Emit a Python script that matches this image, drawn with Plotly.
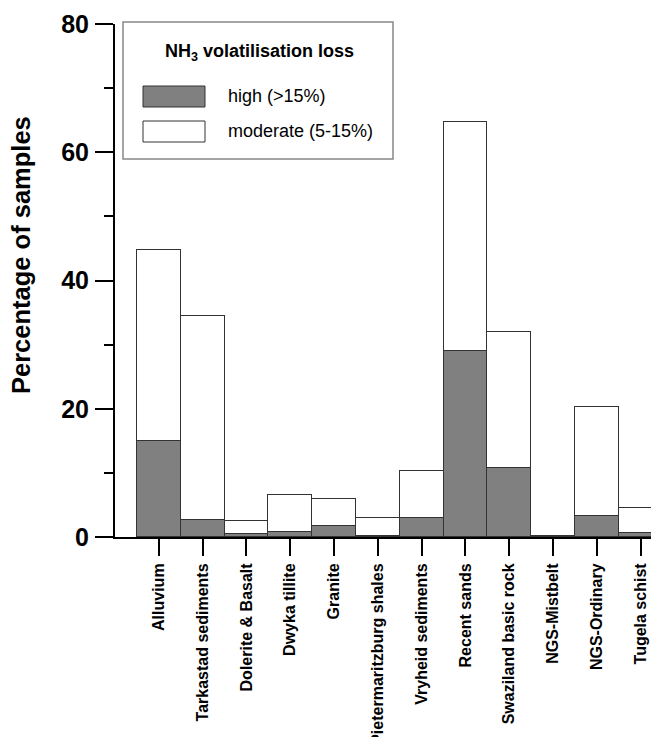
import plotly.graph_objects as go

categories = ["Alluvium", "Tarkastad sediments", "Dolerite & Basalt", "Dwyka tillite",
              "Granite", "Pietermaritzburg shales", "Vryheid sediments", "Recent sands",
              "Swaziland basic rock", "NGS-Mistbelt", "NGS-Ordinary", "Tugela schist"]
high = [15.0, 2.7, 0.4, 0.85, 1.7, 0.1, 2.9, 29.0, 10.7, 0.2, 3.2, 0.7]
moderate = [29.8, 31.8, 2.1, 5.75, 4.3, 2.8, 7.4, 35.7, 21.2, 0.0, 17.1, 3.8]
y_ticks = [0, 20, 40, 60, 80]

# page has an 8 px body margin, so the figure is drawn 8 px right/down
OX, OY = 8, 8
W, H = 659 - OX, 737 - OY
L, R, T, B = 115 - OX, 0, 24 - OY, 200

def px(x):
    return (x - OX - L) / (W - L - R)

def py(y):
    return (H - B - (y - OY)) / (H - T - B)

fig = go.Figure()
fig.add_trace(go.Bar(x=list(range(len(categories))), y=high, name="high (>15%)",
                     marker=dict(color="#808080", line=dict(color="#333333", width=1.2)),
                     showlegend=False))
fig.add_trace(go.Bar(x=list(range(len(categories))), y=moderate, name="moderate (5-15%)",
                     marker=dict(color="white", line=dict(color="#333333", width=1.2)),
                     showlegend=False))

fig.update_layout(
    width=W, height=H,
    margin=dict(l=L, r=R, t=T, b=B, autoexpand=False),
    barmode="stack", bargap=0,
    plot_bgcolor="white", paper_bgcolor="white",
    font=dict(family="Liberation Sans, Arial, sans-serif", color="black"),
)
fig.update_xaxes(
    range=[-1.0, 11.42], automargin=False,
    tickmode="array", tickvals=list(range(len(categories))), ticktext=categories,
    tickangle=-90, ticks="outside", ticklen=17, tickwidth=2, tickcolor="black",
    showline=True, linecolor="black", linewidth=2, showgrid=False, zeroline=False,
    tickfont=dict(family="Liberation Sans, Arial", size=16, color="black", weight="bold"),
    ticklabelstandoff=1,
)
fig.update_yaxes(
    range=[0, 80], automargin=False,
    tickmode="array", tickvals=y_ticks,
    ticks="outside", ticklen=18, tickwidth=2, tickcolor="black",
    minor=dict(ticks="outside", ticklen=9, tickwidth=2, tickcolor="black", dtick=10, tick0=0),
    showline=True, linecolor="black", linewidth=2, showgrid=False, zeroline=False,
    tickfont=dict(family="Liberation Sans, Arial", size=25, color="black", weight="bold"),
    ticklabelstandoff=1,
)

# y-axis title
fig.add_annotation(text="<b>Percentage of samples</b>", xref="paper", yref="paper",
                   x=px(21), y=py(255), textangle=-90, showarrow=False,
                   font=dict(family="Liberation Sans, Arial", size=25.5, color="black"),
                   xanchor="center", yanchor="middle")

# legend box
fig.add_shape(type="rect", xref="paper", yref="paper",
              x0=px(123), x1=px(393), y0=py(159), y1=py(22),
              line=dict(color="#888888", width=1.5), fillcolor="white", layer="above")
fig.add_annotation(text="<b>NH<sub>3</sub> volatilisation loss</b>", xref="paper", yref="paper",
                   x=px(259), y=py(52), showarrow=False, xanchor="center", yanchor="middle",
                   font=dict(family="Liberation Sans, Arial", size=18, color="black"))
fig.add_shape(type="rect", xref="paper", yref="paper",
              x0=px(143), x1=px(205), y0=py(107), y1=py(86),
              line=dict(color="#333333", width=1), fillcolor="#808080", layer="above")
fig.add_shape(type="rect", xref="paper", yref="paper",
              x0=px(143), x1=px(205), y0=py(142), y1=py(121),
              line=dict(color="#333333", width=1), fillcolor="white", layer="above")
fig.add_annotation(text="high (>15%)", xref="paper", yref="paper",
                   x=px(226), y=py(96), showarrow=False, xanchor="left", yanchor="middle",
                   font=dict(family="Liberation Sans, Arial", size=18, color="black"))
fig.add_annotation(text="moderate (5-15%)", xref="paper", yref="paper",
                   x=px(226), y=py(131), showarrow=False, xanchor="left", yanchor="middle",
                   font=dict(family="Liberation Sans, Arial", size=18, color="black"))

fig.write_html("out.html")
